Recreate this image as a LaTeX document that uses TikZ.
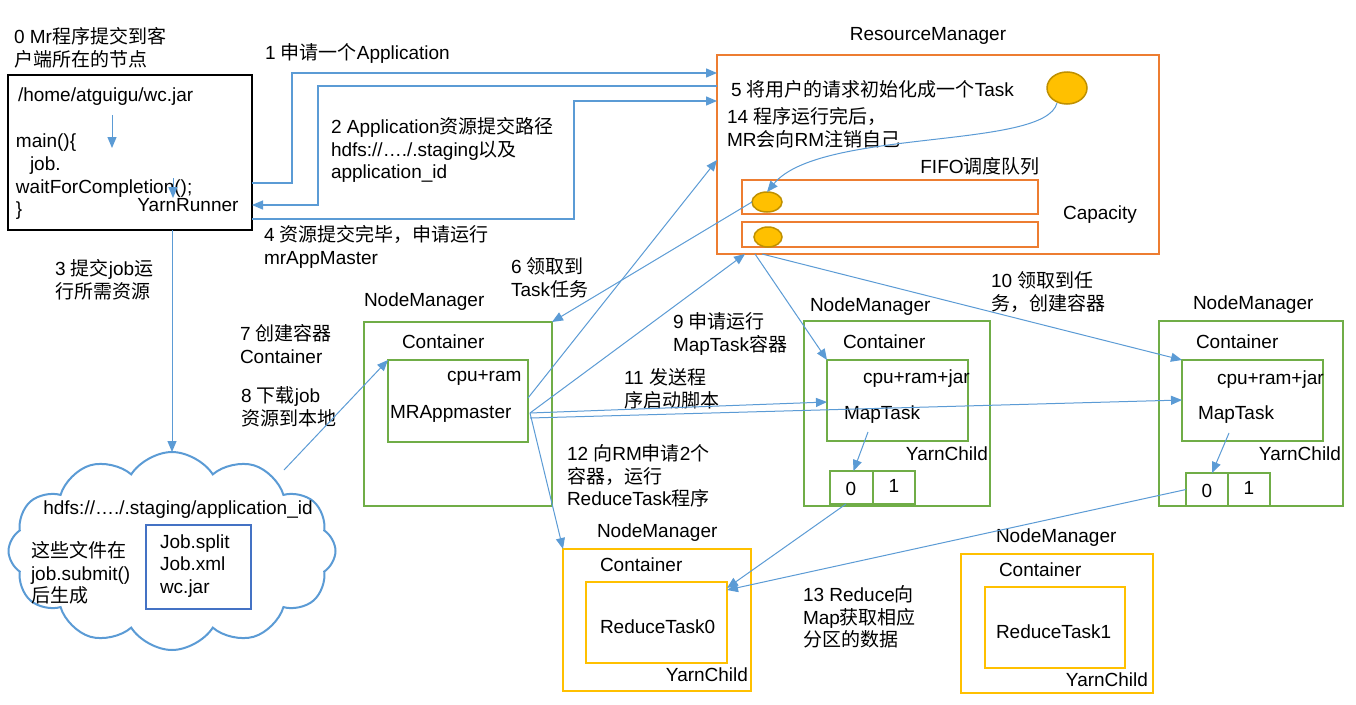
\documentclass[tikz,border=0pt]{standalone}
\usepackage{fontspec}
\setmainfont{Liberation Sans}
\newfontfamily\cjk{Noto Sans CJK SC}
\newcommand\zh[1]{{\cjk #1}}
\usetikzlibrary{shapes.symbols,shapes.geometric,arrows.meta,calc}
\definecolor{ablue}{HTML}{5B9BD5}
\definecolor{aorange}{HTML}{ED7D31}
\definecolor{agreen}{HTML}{70AD47}
\definecolor{agold}{HTML}{FFC000}
\definecolor{agolddark}{HTML}{BF9000}
\definecolor{adblue}{HTML}{4472C4}
\begin{document}
\begin{tikzpicture}[x=1pt,y=-1pt,
  every node/.style={font=\fontsize{19}{22.7}\selectfont, inner sep=0pt, outer sep=0pt},
  box/.style={draw, anchor=north west, line width=2pt},
  gbox/.style={box, draw=agreen},
  obox/.style={box, draw=aorange},
  ybox/.style={box, draw=agold},
  tx/.style={anchor=west, align=left},
  txr/.style={anchor=east, align=right},
  arr/.style={draw=ablue, line width=1pt, -{Triangle[length=11pt,width=9pt]}},
  barr/.style={draw=ablue, line width=1.3pt, -{Triangle[length=11pt,width=9pt]}},
  egg/.style={ellipse, draw=agolddark, fill=agold, line width=1.5pt}
]
\useasboundingbox (0,0) rectangle (1356,704);
\fill[white] (0,0) rectangle (1356,704);

% ---------- client ----------
\node[tx] (t0) at (14,47.5) {0 Mr\zh{程序提交到客}\\\zh{户端所在的节点}};
\node[box, draw=black, minimum width=244pt, minimum height=155pt] (client) at (8,75) {};
\node[tx] (jar) at (18,97) {/home/atguigu/wc.jar};
\node[tx] (code) at (16,177) {main()\{\\\hspace*{14pt}job.\\waitForCompletion();\\\}};
\node (yr) at (188,205) {YarnRunner};
\coordinate (s1a) at (112,115);
\coordinate (s1b) at (112,148);
\draw[arr] (s1a) -- (s1b);
\coordinate (s2a) at (173,178);
\coordinate (s2b) at (173,198);
\draw[arr] (s2a) -- (s2b);

% ---------- cloud ----------
\node[cloud, draw=ablue, fill=white, line width=2pt, cloud puffs=12, cloud puff arc=115,
      aspect=1.65, minimum width=327pt, minimum height=198pt] (cloud) at (172,551) {};
\node (hdfs) at (178,510) {hdfs://…./.staging/application\_id};
\node[tx] (gen) at (31,573) {\zh{这些文件在}\\job.submit()\\\zh{后生成}};
\node[box, draw=adblue, minimum width=105pt, minimum height=84pt] (files) at (146,525) {};
\node[tx] (filest) at (160,566) {Job.split\\Job.xml\\wc.jar};

% ---------- ResourceManager ----------
\node (rmt) at (928,36) {ResourceManager};
\node[obox, minimum width=442pt, minimum height=199pt] (rm) at (717,55) {};
\node[tx] (t5) at (731,89) {5 \zh{将用户的请求初始化成一个}Task};
\node[tx] (t14) at (727,128) {14 \zh{程序运行完后，}\\MR\zh{会向}RM\zh{注销自己}};
\node[egg, minimum width=40pt, minimum height=32pt] (big) at (1067,88) {};
\node (fifo) at (980,166) {FIFO\zh{调度队列}};
\node[obox, minimum width=296pt, minimum height=34pt] (q1) at (742,180) {};
\node[obox, minimum width=296pt, minimum height=25pt] (q2) at (742,222) {};
\node[egg, minimum width=30pt, minimum height=20pt] (e1) at (767,202) {};
\node[egg, minimum width=28pt, minimum height=20pt] (e2) at (768,237) {};
\node (cap) at (1100,215) {Capacity};
\draw[arr] ($(big.south)+(-10,-1)$) .. controls (1045,150) and (820,128) .. (e1.north);

% ---------- NodeManager 1 (MRAppmaster) ----------
\node[tx] (nm1t) at (364,302) {NodeManager};
\node[gbox, minimum width=188pt, minimum height=184pt] (nm1) at (364,322) {};
\node[tx] (c1t) at (402,342) {Container};
\node[gbox, minimum width=140pt, minimum height=82pt] (c1) at (388,360) {};
\node[tx] (c1r) at (447,378) {cpu+ram};
\node[tx] (mra) at (390,414) {MRAppmaster};

% ---------- NodeManager 2 ----------
\node[tx] (nm2t) at (810,307) {NodeManager};
\node[gbox, minimum width=186pt, minimum height=185pt] (nm2) at (804,321) {};
\node[tx] (c2t) at (843,342) {Container};
\node[gbox, minimum width=141pt, minimum height=81pt] (c2) at (827,360) {};
\node[tx] (c2r) at (863,379) {cpu+ram+jar};
\node[tx] (m2) at (844,415) {MapTask};
\node[txr] (y2) at (988,454) {YarnChild};
\node[gbox, minimum width=43pt, minimum height=33pt] (p20) at (830,471) {};
\node[gbox, minimum width=42pt, minimum height=33pt] (p21) at (873,471) {};
\node (p20t) at (851,489) {0};
\node (p21t) at (894,486) {1};

% ---------- NodeManager 3 ----------
\node[tx] (nm3t) at (1193,305) {NodeManager};
\node[gbox, minimum width=184pt, minimum height=185pt] (nm3) at (1159,321) {};
\node[tx] (c3t) at (1196,342) {Container};
\node[gbox, minimum width=141pt, minimum height=81pt] (c3) at (1182,360) {};
\node[tx] (c3r) at (1217,380) {cpu+ram+jar};
\node[tx] (m3) at (1198,415) {MapTask};
\node[txr] (y3) at (1341,454) {YarnChild};
\node[gbox, minimum width=42pt, minimum height=33pt] (p30) at (1186,473) {};
\node[gbox, minimum width=42pt, minimum height=33pt] (p31) at (1228,473) {};
\node (p30t) at (1207,491) {0};
\node (p31t) at (1249,488) {1};

% ---------- NodeManager 4 ----------
\node[tx] (nm4t) at (597,533) {NodeManager};
\node[ybox, minimum width=188pt, minimum height=142pt] (nm4) at (563,549) {};
\node[tx] (c4t) at (600,565) {Container};
\node[ybox, minimum width=141pt, minimum height=81pt] (c4) at (586,582) {};
\node[tx] (r0) at (600,627) {ReduceTask0};
\node[txr] (y4) at (748,675) {YarnChild};

% ---------- NodeManager 5 ----------
\node[tx] (nm5t) at (996,538) {NodeManager};
\node[ybox, minimum width=192pt, minimum height=139pt] (nm5) at (961,554) {};
\node[tx] (c5t) at (999,570) {Container};
\node[ybox, minimum width=140pt, minimum height=81pt] (c5) at (985,587) {};
\node[tx] (r1) at (996,632) {ReduceTask1};
\node[txr] (y5) at (1148,680) {YarnChild};

% ---------- labels ----------
\node[tx] (l1) at (265,53) {1 \zh{申请一个}Application};
\node[tx] (l2) at (331,150) {2 Application\zh{资源提交路径}\\hdfs://…./.staging\zh{以及}\\application\_id};
\node[tx] (l4) at (264,247) {4 \zh{资源提交完毕，申请运行}\\mrAppMaster};
\node[tx] (l3) at (55,279.5) {3 \zh{提交}job\zh{运}\\\zh{行所需资源}};
\node[tx] (l7) at (240,344) {7 \zh{创建容器}\\Container};
\node[tx] (l8) at (241,406.5) {8 \zh{下载}job\\\zh{资源到本地}};
\node[tx] (l6) at (511,277.5) {6 \zh{领取到}\\Task\zh{任务}};
\node[tx] (l9) at (673,334) {9 \zh{申请运行}\\MapTask\zh{容器}};
\node[tx] (l10) at (991,292) {10 \zh{领取到任}\\\zh{务，创建容器}};
\node[tx] (l11) at (624,389) {11 \zh{发送程}\\\zh{序启动脚本}};
\node[tx] (l12) at (567,476) {12 \zh{向}RM\zh{申请}2\zh{个}\\\zh{容器，运行}\\ReduceTask\zh{程序}};
\node[tx] (l13) at (803,617) {13 Reduce\zh{向}\\Map\zh{获取相应}\\\zh{分区的数据}};

% ---------- connectors ----------
\draw[barr] (client.east |- 0,183) -| (292,73) -- (rm.west |- 0,73);
\draw[barr] (rm.west |- 0,86) -| (318,205) -- (client.east |- 0,205);
\draw[barr] (client.east |- 0,219) -| (574,101) -- (rm.west |- 0,101);
\draw[arr] (client.south -| 172,0) -- (cloud.north);
\coordinate (cl8) at (284,470);
\draw[arr] (cl8) -- (c1.north west);
\draw[arr] (e1.west) -- (nm1.north east);
\coordinate (mra14) at (528,398);
\coordinate (mra9) at (530,413);
\coordinate (mra11) at (530,418);
\draw[arr] (mra14) -- (rm.west |- 0,160);
\draw[arr] (mra9) -- (rm.south -| 745,0);
\draw[arr] (rm.south -| 755,0) -- (c2.north west);
\draw[arr] (rm.south -| 762,0) -- (c3.north west);
\draw[arr] (mra9) -- (c2.west |- 0,402);
\draw[arr] (mra11) -- (c3.west |- 0,400);
\draw[arr] (mra9) -- (nm4.north west);
\coordinate (m2s) at (868,432);
\coordinate (m3s) at (1229,433);
\draw[arr] (m2s) -- ($(p20.north)+(2,0)$);
\draw[arr] (m3s) -- ($(p30.north)+(5,0)$);
\draw[arr] (p20.south -| 846,0) -- (c4.east |- 0,588);
\draw[arr] (p30.west) -- (c4.east |- 0,590);
\end{tikzpicture}
\end{document}
